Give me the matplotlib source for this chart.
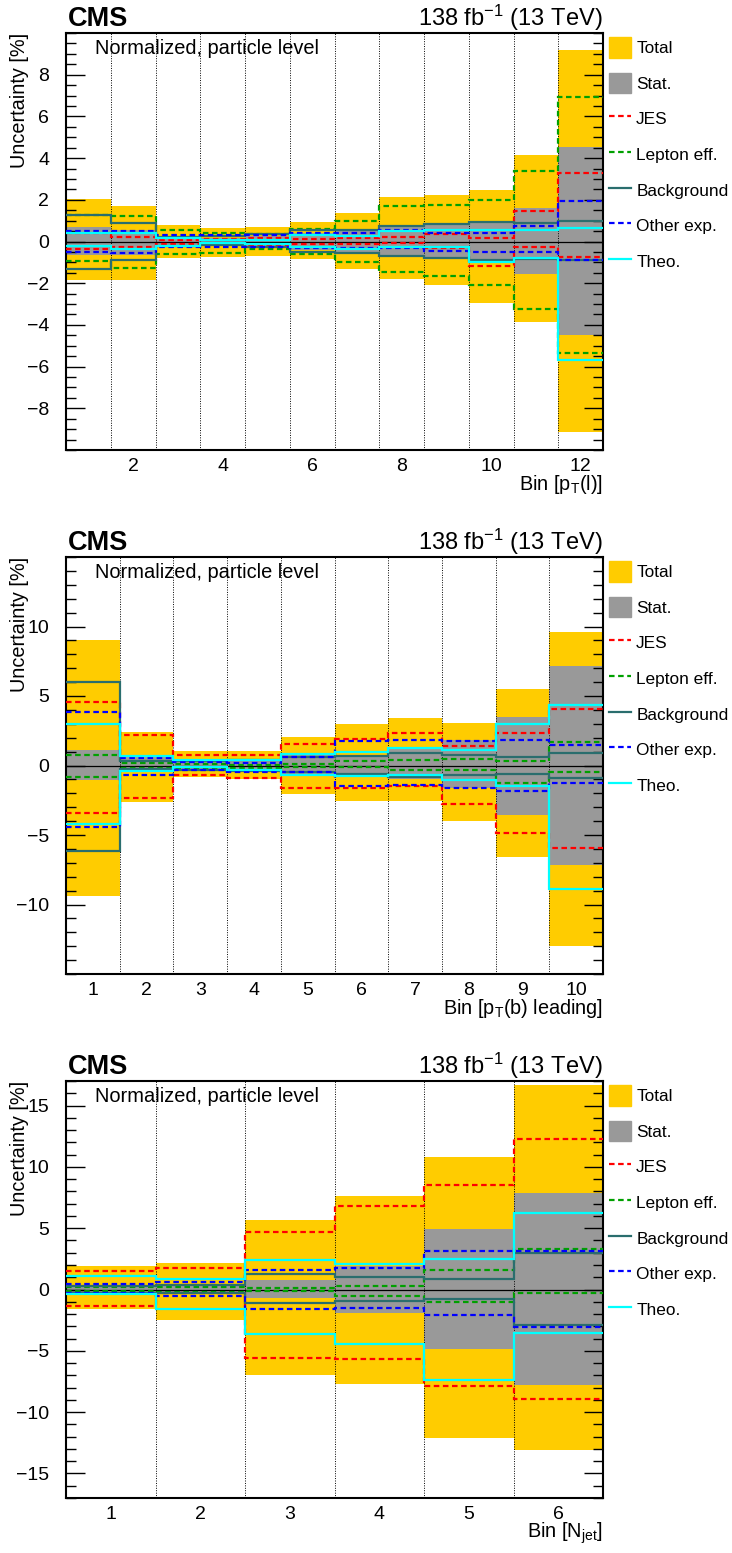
import numpy as np
import matplotlib
matplotlib.use('Agg')
import matplotlib.pyplot as plt
from matplotlib.patches import Patch
from matplotlib.lines import Line2D
from matplotlib.ticker import MultipleLocator

plt.rcParams['font.family'] = ['Liberation Sans', 'DejaVu Sans']
plt.rcParams['mathtext.fontset'] = 'custom'
plt.rcParams['mathtext.rm'] = 'Liberation Sans'
plt.rcParams['mathtext.it'] = 'Liberation Sans:italic'

# ---- panel 1: pT(l), 12 bins ----
p1_total_up = [2.03, 1.68, 0.80, 0.64, 0.69, 0.93, 1.36, 2.13, 2.22, 2.48, 4.16, 9.20]
p1_total_dn = [-1.87, -1.84, -0.80, -0.72, -0.69, -0.85, -1.31, -1.81, -2.08, -2.96, -3.84, -9.12]
p1_stat_up = [0.69, 0.56, 0.24, 0.16, 0.27, 0.43, 0.48, 0.77, 0.88, 0.96, 1.60, 4.53]
p1_stat_dn = [-0.64, -0.64, -0.24, -0.16, -0.27, -0.43, -0.48, -0.67, -0.83, -0.93, -1.57, -4.48]
p1_jes_up = [0.40, 0.21, 0.05, 0.11, 0.16, 0.10, 0.17, 0.21, 0.37, 0.16, 1.44, 3.28]
p1_jes_dn = [-0.35, -0.24, -0.10, -0.08, -0.20, -0.10, -0.11, -0.05, -0.32, -1.17, -0.24, -0.72]
p1_lep_up = [1.25, 1.20, 0.56, 0.43, 0.37, 0.60, 1.00, 1.71, 1.76, 2.00, 3.36, 6.93]
p1_lep_dn = [-0.93, -1.28, -0.59, -0.56, -0.37, -0.60, -0.96, -1.47, -1.65, -2.08, -3.25, -5.33]
p1_bkg_up = [1.28, 0.88, 0.22, 0.24, 0.37, 0.53, 0.56, 0.72, 0.85, 0.93, 0.91, 0.96]
p1_bkg_dn = [-1.31, -0.88, -0.22, -0.16, -0.24, -0.51, -0.53, -0.69, -0.80, -0.88, -0.85, -0.91]
p1_oth_up = [0.48, 0.48, 0.29, 0.32, 0.32, 0.40, 0.43, 0.56, 0.43, 0.40, 0.72, 1.95]
p1_oth_dn = [-0.50, -0.53, -0.27, -0.24, -0.27, -0.32, -0.32, -0.32, -0.45, -0.51, -0.48, -0.88]
p1_theo_up = [0.43, 0.40, 0.16, 0.05, 0.08, 0.30, 0.27, 0.48, 0.56, 0.53, 0.53, 0.67]
p1_theo_dn = [-0.21, -0.35, -0.20, -0.05, -0.10, -0.25, -0.37, -0.24, -0.24, -1.00, -0.80, -5.68]

# ---- panel 2: pT(b) leading, 10 bins ----
p2_total_up = [9.04, 2.40, 1.03, 1.03, 2.04, 2.95, 3.43, 3.07, 5.52, 9.64]
p2_total_dn = [-9.42, -2.66, -0.82, -1.00, -2.04, -2.57, -2.57, -4.00, -6.60, -13.00]
p2_stat_up = [1.15, 0.67, 0.35, 0.35, 0.84, 0.74, 1.20, 1.82, 3.48, 7.15]
p2_stat_dn = [-1.06, -0.41, -0.30, -0.35, -0.65, -0.65, -0.96, -1.63, -3.53, -7.19]
p2_jes_up = [4.56, 2.23, 0.72, 0.72, 1.58, 1.92, 2.35, 1.39, 2.35, 4.03]
p2_jes_dn = [-3.40, -2.33, -0.65, -0.89, -1.65, -1.65, -1.49, -2.76, -4.87, -5.97]
p2_lep_up = [0.79, 0.20, 0.14, 0.05, 0.14, 0.31, 0.43, 0.50, 0.31, 1.70]
p2_lep_dn = [-0.82, -0.15, -0.19, -0.17, -0.10, -0.10, -0.29, -0.29, -1.25, -0.50]
p2_bkg_up = [6.04, 0.31, 0.31, 0.36, 0.60, 0.67, 0.91, 0.74, 0.62, 0.91]
p2_bkg_dn = [-6.12, -0.22, -0.29, -0.36, -0.50, -0.60, -0.82, -0.65, -0.60, -0.91]
p2_oth_up = [3.84, 0.55, 0.24, 0.19, 0.60, 1.75, 1.80, 1.75, 1.85, 1.51]
p2_oth_dn = [-4.44, -0.65, -0.34, -0.46, -0.46, -1.49, -1.41, -1.65, -1.85, -1.27]
p2_theo_up = [3.00, 0.67, 0.43, 0.43, 0.84, 0.96, 1.25, 1.08, 2.95, 4.36]
p2_theo_dn = [-4.24, -0.41, -0.10, -0.29, -0.65, -0.72, -0.65, -1.06, -1.49, -8.87]

# ---- panel 3: N_jet, 6 bins ----
p3_total_up = [1.91, 2.13, 5.67, 7.63, 10.79, 16.70]
p3_total_dn = [-1.58, -2.45, -7.00, -7.68, -12.10, -13.08]
p3_stat_up = [0.30, 0.40, 0.76, 1.90, 4.90, 7.85]
p3_stat_dn = [-0.30, -0.40, -0.68, -1.90, -4.88, -7.79]
p3_jes_up = [1.47, 1.74, 4.66, 6.84, 8.53, 12.26]
p3_jes_dn = [-1.36, -0.30, -5.56, -5.69, -7.90, -8.94]
p3_lep_up = [0.20, 0.20, 0.15, 0.30, 1.58, 3.32]
p3_lep_dn = [-0.15, -0.20, -0.15, -0.49, -0.98, -0.25]
p3_bkg_up = [0.30, 0.35, 1.23, 1.00, 0.84, 2.94]
p3_bkg_dn = [-0.25, -0.25, -1.14, -0.93, -0.79, -2.86]
p3_oth_up = [0.46, 0.63, 1.63, 1.74, 3.16, 3.13]
p3_oth_dn = [-0.27, -0.52, -1.58, -1.53, -2.04, -3.05]
p3_theo_up = [1.06, 0.87, 2.40, 2.04, 2.50, 6.24]
p3_theo_dn = [-0.38, -1.63, -3.65, -4.47, -7.36, -3.51]

labels = ['Total', 'Stat.', 'JES', 'Lepton eff.', 'Background', 'Other exp.', 'Theo.']
c_total = '#ffcc00'
c_stat = '#999999'
c_jes = '#ff0000'
c_lep = '#00a000'
c_bkg = '#2a6e6e'
c_oth = '#0000ff'
c_theo = '#00ffff'
dash = (0, (2.5, 1.6))

W, H = 732, 1553
fig = plt.figure(figsize=(W / 100, H / 100), dpi=100)


def panel(top_px, total, stat, lines, ylim, yticks, minor, xticks, xlabel):
    nb = len(total[0])
    edges = np.arange(nb + 1) + 0.5
    ax = fig.add_axes([66 / W, 1 - (top_px + 417) / H, 537 / W, 417 / H])
    ax.stairs(total[0], edges, baseline=total[1], fill=True, color=c_total, zorder=1)
    ax.stairs(stat[0], edges, baseline=stat[1], fill=True, color=c_stat, zorder=1.1)
    for b in edges[1:-1]:
        ax.axvline(b, color='k', ls=(0, (1, 1.5)), lw=0.7, zorder=2)
    ax.axhline(0, color='k', lw=0.9, zorder=2)
    for up, dn, col, ls in lines:
        for v in (up, dn):
            ax.stairs(v, edges, baseline=None, color=col, lw=1.6, linestyle=ls, zorder=3)
    ax.set_xlim(0.5, nb + 0.5)
    ax.set_ylim(-ylim, ylim)
    ax.set_yticks(yticks)
    ax.yaxis.set_minor_locator(MultipleLocator(minor))
    ax.set_xticks(xticks)
    ax.tick_params(axis='x', length=0, labelsize=14, pad=6)
    ax.tick_params(axis='y', which='both', direction='in', left=True, right=True,
                   labelsize=14, pad=12, width=1.0)
    ax.tick_params(axis='y', which='major', length=13.5)
    ax.tick_params(axis='y', which='minor', length=7)
    for s in ax.spines.values():
        s.set_linewidth(1.5)
    ax.set_ylabel('Uncertainty [%]', loc='top', fontsize=14.3)
    ax.yaxis.set_label_coords(-0.068, 1.0)
    ax.text(1.0, -40 / 417, xlabel, transform=ax.transAxes, ha='right',
            va='baseline', fontsize=14.3)
    ax.text(0.004, 1 + 7 / 417, 'CMS', transform=ax.transAxes, ha='left',
            va='baseline', fontsize=19.5, fontweight='bold')
    ax.text(1.0, 1 + 7 / 417, '138 fb$^{-1}$ (13 TeV)', transform=ax.transAxes,
            ha='right', va='baseline', fontsize=17)
    ax.text(0.054, 1 - 21 / 417, 'Normalized, particle level', transform=ax.transAxes,
            ha='left', va='baseline', fontsize=14.4)
    handles = [Patch(color=c_total), Patch(color=c_stat),
               Line2D([], [], color=c_jes, lw=1.6, ls=dash),
               Line2D([], [], color=c_lep, lw=1.6, ls=dash),
               Line2D([], [], color=c_bkg, lw=1.6),
               Line2D([], [], color=c_oth, lw=1.6, ls=dash),
               Line2D([], [], color=c_theo, lw=1.6)]
    ax.legend(handles, labels, loc='upper left', bbox_to_anchor=(1.012, 0.99),
              frameon=False, fontsize=12.4, borderaxespad=0, borderpad=0,
              handlelength=1.25, handleheight=1.45, handletextpad=0.3,
              labelspacing=0.88)
    return ax


panel(33,
      (p1_total_up, p1_total_dn), (p1_stat_up, p1_stat_dn),
      [(p1_jes_up, p1_jes_dn, c_jes, dash), (p1_lep_up, p1_lep_dn, c_lep, dash),
       (p1_bkg_up, p1_bkg_dn, c_bkg, '-'), (p1_oth_up, p1_oth_dn, c_oth, dash),
       (p1_theo_up, p1_theo_dn, c_theo, '-')],
      10, [-8, -6, -4, -2, 0, 2, 4, 6, 8], 0.5, [2, 4, 6, 8, 10, 12],
      'Bin [p$_{\\mathrm{T}}$(l)]')

panel(557,
      (p2_total_up, p2_total_dn), (p2_stat_up, p2_stat_dn),
      [(p2_jes_up, p2_jes_dn, c_jes, dash), (p2_lep_up, p2_lep_dn, c_lep, dash),
       (p2_bkg_up, p2_bkg_dn, c_bkg, '-'), (p2_oth_up, p2_oth_dn, c_oth, dash),
       (p2_theo_up, p2_theo_dn, c_theo, '-')],
      15, [-10, -5, 0, 5, 10], 1, list(range(1, 11)),
      'Bin [p$_{\\mathrm{T}}$(b) leading]')

panel(1081,
      (p3_total_up, p3_total_dn), (p3_stat_up, p3_stat_dn),
      [(p3_jes_up, p3_jes_dn, c_jes, dash), (p3_lep_up, p3_lep_dn, c_lep, dash),
       (p3_bkg_up, p3_bkg_dn, c_bkg, '-'), (p3_oth_up, p3_oth_dn, c_oth, dash),
       (p3_theo_up, p3_theo_dn, c_theo, '-')],
      17, [-15, -10, -5, 0, 5, 10, 15], 1, list(range(1, 7)),
      'Bin [N$_{\\mathrm{jet}}$]')

fig.savefig('out.png', dpi=100)
